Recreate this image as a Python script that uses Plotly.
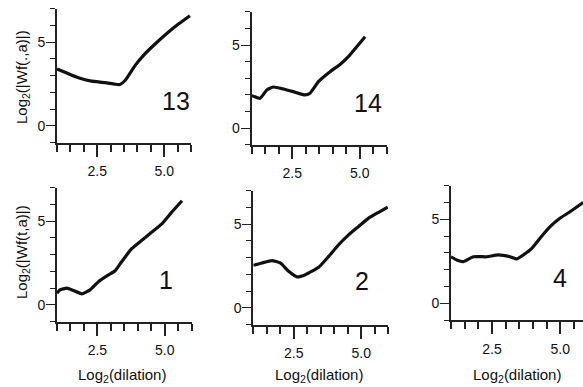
import plotly.graph_objects as go

# ---- data ----
x13 = [1.0, 1.3, 1.8, 2.29, 2.79, 3.16, 3.35, 3.54, 3.91, 4.28, 4.66, 5.15, 5.53, 5.96]
y13 = [3.39, 3.19, 2.86, 2.66, 2.58, 2.48, 2.46, 2.7, 3.59, 4.29, 4.88, 5.58, 6.07, 6.57]

x14 = [1.0, 1.31, 1.56, 1.8, 2.17, 2.54, 2.97, 3.16, 3.47, 3.9, 4.27, 4.58, 4.89, 5.2]
y14 = [1.95, 1.79, 2.29, 2.47, 2.35, 2.19, 1.99, 2.09, 2.79, 3.39, 3.83, 4.3, 4.9, 5.5]

x1 = [1.0, 1.11, 1.36, 1.61, 1.92, 2.23, 2.54, 2.91, 3.16, 3.4, 3.78, 4.15, 4.52, 4.89, 5.26, 5.64]
y1 = [0.69, 0.89, 0.99, 0.85, 0.65, 0.89, 1.38, 1.78, 2.03, 2.57, 3.36, 3.85, 4.34, 4.83, 5.53, 6.21]

x2 = [1.0, 1.32, 1.69, 2.0, 2.31, 2.62, 2.93, 3.42, 3.79, 4.16, 4.53, 4.9, 5.27, 5.64, 5.98]
y2 = [2.54, 2.68, 2.82, 2.68, 2.18, 1.85, 1.98, 2.42, 3.07, 3.77, 4.36, 4.86, 5.36, 5.71, 6.02]

x4 = [1.0, 1.21, 1.45, 1.82, 2.31, 2.73, 3.16, 3.41, 3.65, 3.96, 4.26, 4.63, 4.99, 5.36, 5.84]
y4 = [2.77, 2.58, 2.48, 2.77, 2.77, 2.88, 2.77, 2.64, 2.88, 3.27, 3.87, 4.56, 5.06, 5.45, 6.0]

panel_labels = ["13", "14", "1", "2", "4"]
label_pos = [(5.45, 1.5), (5.3, 1.53), (5.06, 1.46), (5.03, 1.6), (4.99, 1.48)]

x_tickvals = [2.5, 5.0]
x_ticktext = ["2.5", "5.0"]
y_tickvals = [0, 5]
y_ticktext = ["0", "5"]

ytitle_top = "Log<sub>2</sub>(|Wf(.,a)|)"
ytitle_bot = "Log<sub>2</sub>(|Wf(t,a)|)"
xtitle = "Log<sub>2</sub>(dilation)"

W, H = 583, 387
FONT = "Liberation Sans, Arial, sans-serif"

# panel pixel boxes: (x_left, x_right), (y_top, y_bottom), x range
panels = [
    dict(px=(57, 191), py=(8.5, 142.5), xr=(1, 6)),
    dict(px=(251.7, 386.7), py=(11.8, 144.6), xr=(1, 6)),
    dict(px=(57, 191.7), py=(187.5, 321.5), xr=(1, 6)),
    dict(px=(253.3, 388.3), py=(190.7, 324.5), xr=(1, 6)),
    dict(px=(451, 583), py=(185.7, 320.1), xr=(1, 5.835)),
]
series = [(x13, y13), (x14, y14), (x1, y1), (x2, y2), (x4, y4)]

fig = go.Figure()
layout = dict(
    width=W, height=H, margin=dict(l=0, r=0, t=0, b=0),
    paper_bgcolor="white", plot_bgcolor="white", showlegend=False,
    font=dict(family=FONT, color="#111"),
)
annotations = []
for i, (p, (xs, ys)) in enumerate(zip(panels, series)):
    n = "" if i == 0 else str(i + 1)
    xa, ya = "x" + n, "y" + n
    fig.add_trace(go.Scatter(x=xs, y=ys, mode="lines", xaxis=xa, yaxis=ya, cliponaxis=True,
                             line=dict(color="#111", width=3.2, shape="spline", smoothing=0.4)))
    dom_x = [p["px"][0] / W, min(p["px"][1] / W, 1)]
    dom_y = [1 - p["py"][1] / H, 1 - p["py"][0] / H]
    layout["xaxis" + n] = dict(
        domain=dom_x, range=list(p["xr"]), anchor=ya, showgrid=False, zeroline=False,
        showline=True, linecolor="#222", linewidth=2, ticks="outside", ticklen=12,
        tickwidth=1.5, tickcolor="#222", tickmode="array", tickvals=x_tickvals,
        ticktext=x_ticktext, ticklabelstandoff=3,
        tickfont=dict(size=14, family=FONT, color="#111"),
        minor=dict(dtick=0.5, tick0=0, ticks="outside", ticklen=7, tickwidth=1.5, tickcolor="#222"),
    )
    layout["yaxis" + n] = dict(
        domain=dom_y, range=[-1, 7], anchor=xa, showgrid=False, zeroline=False,
        showline=True, linecolor="#222", linewidth=2, ticks="outside", ticklen=9,
        tickwidth=1.2, tickcolor="#222", tickmode="array", tickvals=y_tickvals,
        ticktext=y_ticktext, ticklabelstandoff=-2,
        tickfont=dict(size=14, family=FONT, color="#111"),
        minor=dict(dtick=1, tick0=0, ticks="outside", ticklen=5, tickwidth=1.2, tickcolor="#222"),
    )
    lx, ly = label_pos[i]
    annotations.append(dict(x=lx, y=ly, xref=xa, yref=ya, text=panel_labels[i], showarrow=False,
                            xanchor="center", yanchor="middle",
                            font=dict(size=25, family=FONT, color="#111")))

# axis titles
for cy, txt in ((77, ytitle_top), (252, ytitle_bot)):
    annotations.append(dict(x=22 / W, y=1 - cy / H, xref="paper", yref="paper", text=txt,
                            textangle=-90, showarrow=False, xanchor="center", yanchor="middle",
                            font=dict(size=15, family=FONT, color="#111")))
for cx in (122, 319, 517):
    annotations.append(dict(x=cx / W, y=1 - 375 / H, xref="paper", yref="paper", text=xtitle,
                            showarrow=False, xanchor="center", yanchor="middle",
                            font=dict(size=15, family=FONT, color="#111")))
layout["annotations"] = annotations
fig.update_layout(**layout)
fig.write_html("out.html")
